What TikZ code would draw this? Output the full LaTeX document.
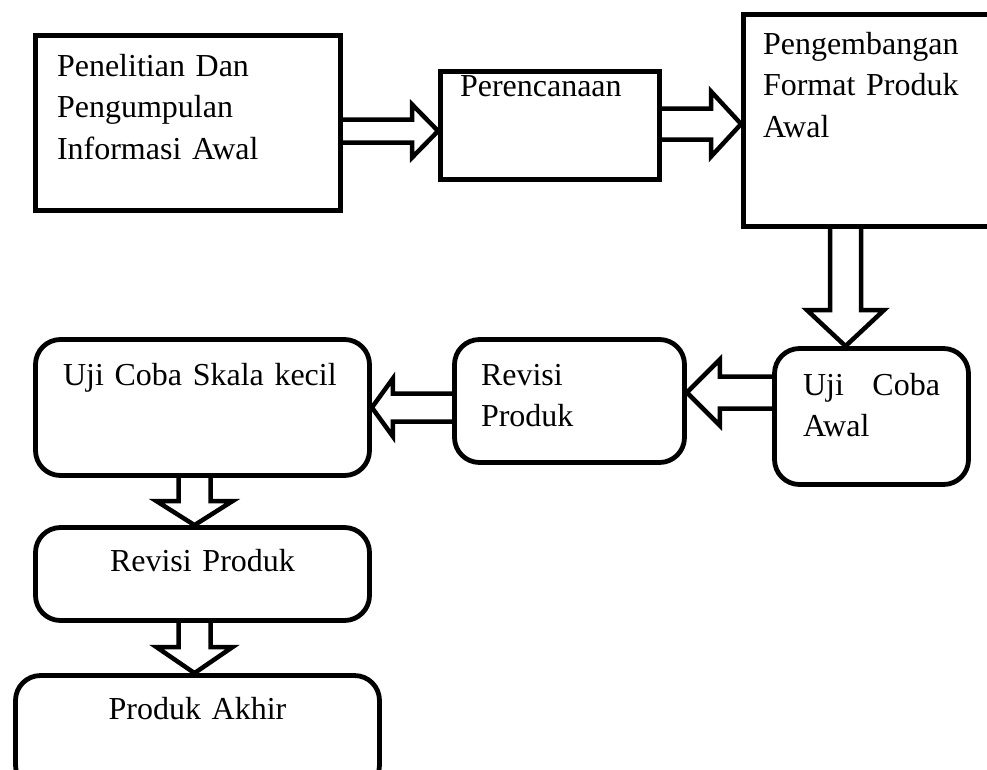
\documentclass[tikz,border=0pt]{standalone}
\usepackage{fontspec}
\setmainfont{Liberation Serif}
\usetikzlibrary{calc}

\tikzset{
  stage/.style={draw, line width=4.8pt, anchor=north west, inner ysep=0pt, align=left,
    font=\fontsize{32}{41.5}\selectfont},
  rstage/.style={stage, rounded corners=25pt},
  hollow/.style n args={4}{draw, line width=4.5pt, line join=miter,
    to path={let \p1=(\tikztostart), \p2=(\tikztostart #4 \tikztotarget),
      \p3=($(\p2)!#3pt!(\p1)$) in
      ($(\p1)!#1pt!90:(\p2)$) -- ($(\p3)!#1pt!90:(\p2)$) -- ($(\p3)!#2pt!90:(\p2)$) -- (\p2)
      -- ($(\p3)!#2pt!-90:(\p2)$) -- ($(\p3)!#1pt!-90:(\p2)$) -- ($(\p1)!#1pt!-90:(\p2)$)}}
}

\begin{document}
\begin{tikzpicture}[x=1pt,y=-1pt]
  \useasboundingbox (0,0) rectangle (987,769);
  \clip (0,0) rectangle (987,769);

  %top row
  \node[stage,text width=262pt,inner xsep=21.5pt,text height=40.5pt,text depth=134.5pt] (teliti) at (33.1,33.1) {Penelitian Dan\\Pengumpulan\\Informasi Awal};
  \node[stage,text width=180pt,inner xsep=19.5pt,text height=24.5pt,text depth=83.5pt] (rencana) at (438.1,69.1) {Perencanaan};
  \node[stage,text width=230pt,inner xsep=19.5pt,text height=39.5pt,text depth=172.5pt] (kembang) at (741.1,12.1) {Pengembangan\\\makebox[205pt][s]{Format Produk}\\Awal};

  %middle row
  \node[rstage,text width=137pt,inner xsep=28.5pt,text height=46.5pt,text depth=89.5pt] (ujiawal) at (772.1,346.1) {Uji\hfill Coba\\Awal};
  \node[rstage,text width=177pt,inner xsep=26.5pt,text height=45.5pt,text depth=77.5pt] (revisi) at (452.1,337.1) {Revisi\\Produk};
  \node[rstage,text width=279pt,inner xsep=27.5pt,text height=45.5pt,text depth=90.5pt] (ujikecil) at (33.1,337.1) {Uji Coba Skala kecil};

  %left column
  \node[rstage,align=center,text width=334pt,inner xsep=0pt,text height=44pt,text depth=49pt] (revisii) at (33.1,525.1) {Revisi Produk};
  \node[rstage,align=center,text width=364pt,inner xsep=0pt,text height=43.5pt,text depth=71pt] (akhir) at (13.1,673.1) {Produk Akhir};

  %arrows
  \draw[hollow={11.5}{26.5}{26}{-|}] ([yshift=-8pt]teliti.east) to (rencana.west);
  \draw[hollow={15.5}{32.5}{30}{-|}] ([yshift=1.5pt]rencana.east) to (kembang.west);
  \draw[hollow={15.5}{38.5}{36}{|-}] ([xshift=-32.5pt]kembang.south) to (ujiawal.north);
  \draw[hollow={16}{33}{33}{-|}] ([yshift=24pt]ujiawal.west) to (revisi.east);
  \draw[hollow={14}{29}{21}{-|}] ([yshift=-6.5pt]revisi.west) to (ujikecil.east);
  \draw[hollow={16}{38}{24}{|-}] ([xshift=-8pt]ujikecil.south) to (revisii.north);
  \draw[hollow={16}{38}{26}{|-}] ([xshift=-8pt]revisii.south) to (akhir.north);
\end{tikzpicture}
\end{document}
